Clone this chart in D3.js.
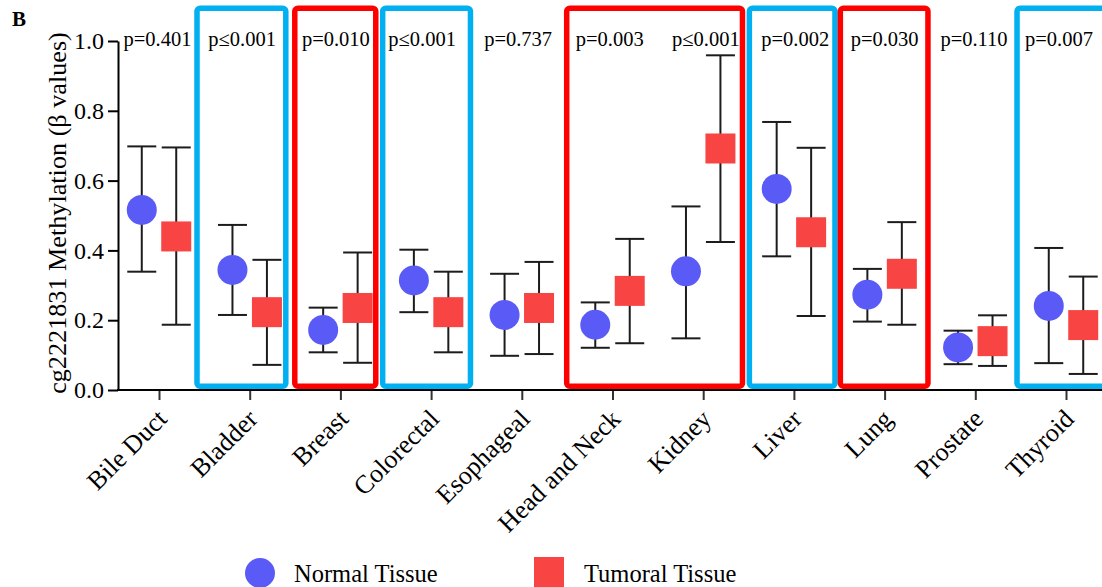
<!DOCTYPE html>
<html>
<head>
<meta charset="utf-8">
<script src="https://cdn.jsdelivr.net/npm/d3@7"></script>
<style>
  html, body { margin: 0; padding: 0; background: #fff; }
  svg { display: block; font-family: "Liberation Serif", "Times New Roman", serif; }
</style>
</head>
<body>
<svg id="chart" width="1102" height="587"></svg>
<script>
// cg2221831 methylation (beta values), normal vs tumoral tissue, median with range
const categories = ["Bile Duct", "Bladder", "Breast", "Colorectal", "Esophageal",
  "Head and Neck", "Kidney", "Liver", "Lung", "Prostate", "Thyroid"];

const normalMid  = [0.516, 0.344, 0.172, 0.314, 0.215, 0.187, 0.340, 0.576, 0.273, 0.122, 0.241];
const normalLow  = [0.339, 0.215, 0.108, 0.223, 0.098, 0.121, 0.148, 0.383, 0.196, 0.074, 0.077];
const normalHigh = [0.698, 0.473, 0.236, 0.402, 0.333, 0.251, 0.526, 0.768, 0.347, 0.170, 0.407];

const tumorMid  = [0.440, 0.223, 0.235, 0.223, 0.235, 0.284, 0.692, 0.452, 0.333, 0.140, 0.186];
const tumorLow  = [0.187, 0.072, 0.078, 0.108, 0.103, 0.134, 0.424, 0.212, 0.187, 0.069, 0.046];
const tumorHigh = [0.695, 0.373, 0.394, 0.339, 0.367, 0.433, 0.959, 0.694, 0.481, 0.214, 0.325];

const pLabels = ["p=0.401", "p≤0.001", "p=0.010", "p≤0.001", "p=0.737",
  "p=0.003", "p≤0.001", "p=0.002", "p=0.030", "p=0.110", "p=0.007"];

const yTicks = [0, 0.2, 0.4, 0.6, 0.8, 1.0];

// Highlight frames: blue = lower in tumour, red = higher in tumour
const frameFirst = ["Bladder", "Breast", "Colorectal", "Head and Neck", "Liver", "Lung", "Thyroid"];
const frameLast  = ["Bladder", "Breast", "Colorectal", "Kidney", "Liver", "Lung", "Thyroid"];
const frameColor = ["#00b0f0", "#ff0000", "#00b0f0", "#ff0000", "#00b0f0", "#ff0000", "#00b0f0"];

// ---- layout ----
const W = 1102, H = 587;
const axisX = 118, axisY = 390, topY = 41;
const frameLeftPad  = [-0.581, -0.503, -0.534, -0.505, -0.491, -0.488, -0.540];
const frameRightPad = [0.398, 0.390, 0.434, 0.433, 0.453, 0.478, 0.600];
const pNudge = [-1.5, -7.6, -4.5, -9, -3.7, -2.8, 2.7, 1.3, 0, -1.3, -7];
const colNormal = "#5a5af7", colTumor = "#f94444", ink = "#1c1c1c";

const svg = d3.select("#chart");
svg.append("rect").attr("width", W).attr("height", H).attr("fill", "#fff");

const x = d3.scalePoint().domain(categories).range([159, 1066]);
const y = d3.scaleLinear().domain([0, 1]).range([axisY, topY]);
const step = x.step();
const pairOffset = 0.19 * step;
const capHalf = 14.5;

// panel letter
svg.append("text").attr("x", 12).attr("y", 26)
  .attr("font-size", 21).attr("font-weight", "bold").text("B");

// y axis
const yAxis = svg.append("g").attr("transform", `translate(${axisX},0)`)
  .call(d3.axisLeft(y).tickValues(yTicks).tickFormat(d3.format(".1f"))
    .tickSize(10).tickSizeOuter(0).tickPadding(4));
yAxis.select(".domain").attr("stroke", "#000").attr("stroke-width", 2);
yAxis.selectAll(".tick line").attr("stroke", "#000").attr("stroke-width", 2);
yAxis.selectAll(".tick text").attr("font-size", 24).attr("fill", "#000")
  .attr("font-family", "Liberation Serif, Times New Roman, serif");

// y axis title
svg.append("text")
  .attr("transform", `translate(66,213) rotate(-90)`)
  .attr("text-anchor", "middle").attr("font-size", 26.2)
  .text("cg2221831 Methylation (β values)");

// x axis
const xAxis = svg.append("g").attr("transform", `translate(0,${axisY})`)
  .call(d3.axisBottom(x).tickSize(10).tickSizeOuter(0).tickFormat(""));
xAxis.select(".domain").remove();
xAxis.selectAll(".tick line").attr("stroke", "#333").attr("stroke-width", 2);
svg.append("line").attr("x1", axisX - 1).attr("x2", W + 5)
  .attr("y1", axisY).attr("y2", axisY).attr("stroke", "#000").attr("stroke-width", 2);

// rotated category labels
svg.append("g").selectAll("text").data(categories).join("text")
  .attr("transform", d => `translate(${x(d) + 3},${axisY + 24}) rotate(-45)`)
  .attr("text-anchor", "end").attr("dy", "0.35em").attr("font-size", 26)
  .text(d => d);

// highlight frames
svg.append("g").selectAll("rect").data(frameFirst).join("rect")
  .attr("x", (d, i) => x(d) + frameLeftPad[i] * step)
  .attr("width", (d, i) => x(frameLast[i]) + frameRightPad[i] * step - (x(d) + frameLeftPad[i] * step))
  .attr("y", y(1.094))
  .attr("height", y(0.011) - y(1.094))
  .attr("rx", 3)
  .attr("fill", "none")
  .attr("stroke", (d, i) => frameColor[i])
  .attr("stroke-width", 5.5);

// p-values
svg.append("g").selectAll("text").data(pLabels).join("text")
  .attr("x", (d, i) => x(categories[i]) + pNudge[i])
  .attr("y", 46)
  .attr("text-anchor", "middle").attr("font-size", 20.5)
  .text(d => d);

// error bars
function whiskers(g, dx, lo, hi) {
  const grp = g.append("g").attr("stroke", ink).attr("stroke-width", 2).attr("fill", "none");
  categories.forEach((c, i) => {
    const cx = x(c) + dx;
    grp.append("line").attr("x1", cx).attr("x2", cx).attr("y1", y(lo[i])).attr("y2", y(hi[i]));
    grp.append("line").attr("x1", cx - capHalf).attr("x2", cx + capHalf).attr("y1", y(lo[i])).attr("y2", y(lo[i]));
    grp.append("line").attr("x1", cx - capHalf).attr("x2", cx + capHalf).attr("y1", y(hi[i])).attr("y2", y(hi[i]));
  });
}
const bars = svg.append("g");
whiskers(bars, -pairOffset, normalLow, normalHigh);
whiskers(bars, pairOffset, tumorLow, tumorHigh);

// markers
svg.append("g").selectAll("circle").data(normalMid).join("circle")
  .attr("cx", (d, i) => x(categories[i]) - pairOffset)
  .attr("cy", d => y(d)).attr("r", 15).attr("fill", colNormal);

svg.append("g").selectAll("rect").data(tumorMid).join("rect")
  .attr("x", (d, i) => x(categories[i]) + pairOffset - 15)
  .attr("y", d => y(d) - 15).attr("width", 30).attr("height", 30).attr("fill", colTumor);

// legend
const legend = svg.append("g").attr("font-size", 24.5);
legend.append("circle").attr("cx", 260).attr("cy", 573).attr("r", 15).attr("fill", colNormal);
legend.append("text").attr("x", 294).attr("y", 582).text("Normal Tissue");
legend.append("rect").attr("x", 534).attr("y", 557).attr("width", 30).attr("height", 30).attr("fill", colTumor);
legend.append("text").attr("x", 584).attr("y", 582).text("Tumoral Tissue");
</script>
</body>
</html>
